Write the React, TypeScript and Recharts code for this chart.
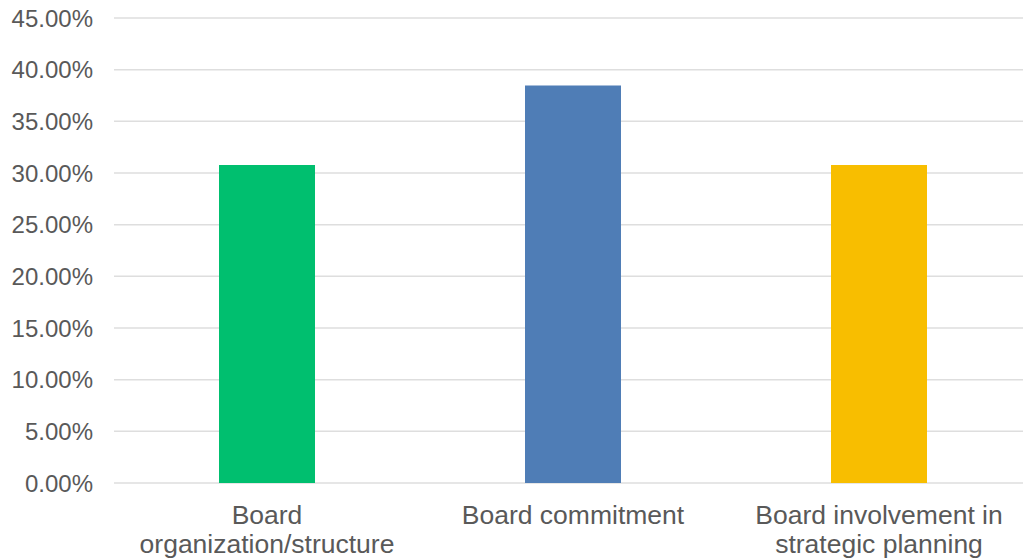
import { Bar, BarChart, CartesianGrid, Cell, XAxis, YAxis } from 'recharts'

const categories = [
  'Board organization/structure',
  'Board commitment',
  'Board involvement in strategic planning',
]
// how each category label breaks onto lines under the axis
const categoryLines = [
  ['Board', 'organization/structure'],
  ['Board commitment'],
  ['Board involvement in', 'strategic planning'],
]
const shares = [0.3077, 0.3846, 0.3077]
const barColors = ['#00bf6f', '#4f7db6', '#f8be00']
const yTicks = [0, 0.05, 0.1, 0.15, 0.2, 0.25, 0.3, 0.35, 0.4, 0.45]

const data = categories.map((name, i) => ({ name, value: shares[i] }))

const font = '"Liberation Sans", Arial, sans-serif'
const textColor = '#595959'

function CategoryTick(props: any) {
  const { x, y, index } = props
  const lines = categoryLines[index] ?? [categories[index]]
  return (
    <text
      x={x}
      y={y}
      textAnchor="middle"
      fill={textColor}
      fontSize={26.5}
      fontFamily={font}
    >
      {lines.map((line, i) => (
        <tspan key={i} x={x} dy={i === 0 ? 33 : 29}>
          {line}
        </tspan>
      ))}
    </text>
  )
}

export default function App() {
  return (
    <div
      style={{
        position: 'fixed',
        left: 0,
        top: 0,
        width: 1023,
        height: 560,
        overflow: 'hidden',
        background: '#fff',
      }}
    >
      <BarChart
        width={1040}
        height={560}
        data={data}
        margin={{ top: 18, right: 8, left: 0, bottom: 0 }}
        barSize={96}
      >
        <CartesianGrid
          vertical={false}
          stroke="#dedede"
          strokeWidth={1.5}
        />
        <XAxis
          dataKey="name"
          axisLine={false}
          tickLine={false}
          height={77}
          interval={0}
          tick={<CategoryTick />}
        />
        <YAxis
          domain={[0, 0.45]}
          ticks={yTicks}
          width={114}
          axisLine={false}
          tickLine={false}
          tickSize={0}
          tickMargin={21}
          interval={0}
          tick={{ fill: textColor, fontSize: 24, fontFamily: font }}
          tickFormatter={(v: number) => `${(v * 100).toFixed(2)}%`}
        />
        <Bar dataKey="value" isAnimationActive={false}>
          {data.map((d, i) => (
            <Cell key={d.name} fill={barColors[i]} />
          ))}
        </Bar>
      </BarChart>
    </div>
  )
}
